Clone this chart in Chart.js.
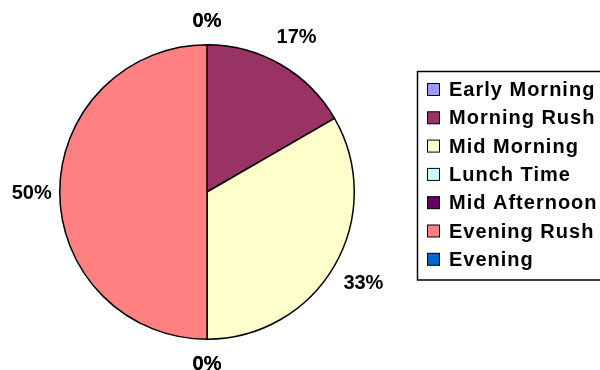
<!DOCTYPE html>
<html>
<head>
<meta charset="utf-8">
<script src="https://cdn.jsdelivr.net/npm/chart.js@4.4.0/dist/chart.umd.min.js"></script>
<style>
  html, body { margin: 0; padding: 0; background: #fff; }
  #wrap { width: 600px; height: 370px; position: relative; }
</style>
</head>
<body>
<div id="wrap"><canvas id="trafficPie" width="600" height="370"></canvas></div>
<script>
    "use strict";

    // Trips per time of day
    const periods = ['Early Morning', 'Morning Rush', 'Mid Morning', 'Lunch Time', 'Mid Afternoon', 'Evening Rush', 'Evening'];
    const trips = [0, 1, 2, 0, 0, 3, 0];
    const sliceColors = ['#9999FF', '#993366', '#FFFFCC', '#CCFFFF', '#660066', '#FF8080', '#0066CC'];

    const labelFont = 'bold 20px "Liberation Sans", Arial, sans-serif';

    // Percent labels outside each slice
    const percentLabels = {
        id: 'percentLabels',
        afterDatasetsDraw(chart) {
            const ctx = chart.ctx;
            const meta = chart.getDatasetMeta(0);
            const data = chart.data.datasets[0].data;
            const total = data.reduce((a, b) => a + b, 0);
            ctx.save();
            ctx.font = labelFont;
            ctx.fillStyle = '#000';
            ctx.textAlign = 'center';
            ctx.textBaseline = 'middle';
            meta.data.forEach((arc, i) => {
                const p = arc.getProps(['x', 'y', 'startAngle', 'endAngle', 'outerRadius'], true);
                const mid = (p.startAngle + p.endAngle) / 2;
                const text = Math.round(data[i] / total * 100) + '%';
                const w = ctx.measureText(text).width;
                // push the label out by half its box in the direction of the slice
                const ext = Math.abs(Math.cos(mid)) * w / 2 + Math.abs(Math.sin(mid)) * 16;
                const dist = p.outerRadius + 8 + ext;
                ctx.fillText(text, p.x + Math.cos(mid) * dist, p.y + Math.sin(mid) * dist + 1);
            });
            ctx.restore();
        }
    };

    // Boxed legend on the right
    const boxLegend = {
        id: 'boxLegend',
        afterDraw(chart) {
            const ctx = chart.ctx;
            const colors = chart.data.datasets[0].backgroundColor;
            ctx.save();
            ctx.lineWidth = 1.5;
            ctx.strokeStyle = '#000';
            ctx.strokeRect(417.5, 71.5, 200, 208.5);
            ctx.font = labelFont;
            ctx.letterSpacing = '1px';
            ctx.textBaseline = 'middle';
            ctx.textAlign = 'left';
            chart.data.labels.forEach((label, i) => {
                const y = 89.5 + i * 28.3;
                ctx.fillStyle = colors[i];
                ctx.fillRect(427.5, y - 6, 12, 12);
                ctx.lineWidth = 1;
                ctx.strokeRect(427.5, y - 6, 12, 12);
                ctx.fillStyle = '#000';
                ctx.fillText(label, 449, y + 1);
            });
            ctx.restore();
        }
    };

    new Chart(document.getElementById('trafficPie'), {
        type: 'pie',
        data: {
            labels: periods,
            datasets: [{
                data: trips,
                backgroundColor: sliceColors,
                borderColor: '#000',
                borderWidth: 1.5
            }]
        },
        options: {
            responsive: false,
            animation: false,
            layout: {
                padding: { left: 59, top: 44, right: 245, bottom: 30 }
            },
            plugins: {
                legend: { display: false },
                tooltip: { enabled: false }
            }
        },
        plugins: [percentLabels, boxLegend]
    });
</script>
</body>
</html>
